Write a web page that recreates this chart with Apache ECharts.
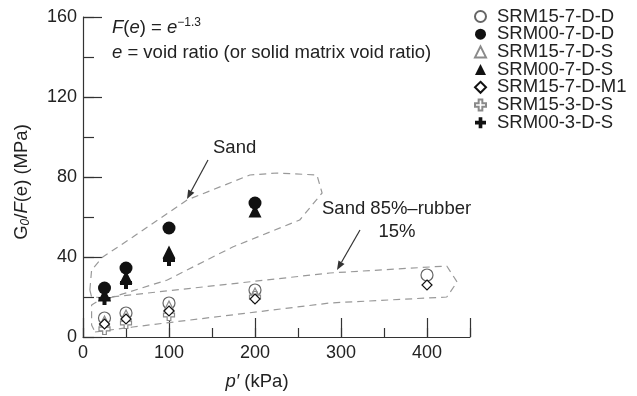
<!DOCTYPE html>
<html><head><meta charset="utf-8">
<script src="https://cdn.jsdelivr.net/npm/echarts@6/dist/echarts.min.js"></script>
<style>html,body{margin:0;padding:0;background:#fff}#c{width:637px;height:396px}</style>
</head><body><div id="c"></div>
<script>
// ---- data ----
const srm15_7DD  = [[25, 9.5], [50, 12], [100, 17], [200, 23.5], [400, 31]];
const srm00_7DD  = [[25, 24.5], [50, 34.5], [100, 54.5], [200, 67]];
const srm15_7DS  = [[25, 8], [50, 11], [100, 15.5], [200, 22]];
const srm00_7DS  = [[25, 21], [50, 30], [100, 42.5], [200, 63]];
const srm15_7DM1 = [[25, 6.5], [50, 9], [100, 13], [200, 19], [400, 26]];
const srm15_3DS  = [[25, 4], [50, 7], [100, 11], [200, 20]];
const srm00_3DS  = [[25, 19], [50, 27], [100, 38.5]];
// envelope outlines (data coordinates)
const sandEnvelope = [[8,23.5],[10,33.5],[23,40],[58,50],[121,68.5],[194,81],[226,82],[272,81],[278,72],[252,58.5],[174,45],[98,28.5],[31,19.5],[10,20],[8,23.5]];
const rubberEnvelope = [[14,2.5],[58,5],[287,17],[423,20],[435,27.5],[423,35.5],[287,32],[23,19.5],[10,16],[10,6],[14,2.5]];
const xTicks = [0, 100, 200, 300, 400];
const yTicks = [0, 40, 80, 120, 160];

const FONT = '"Liberation Sans", Arial, Helvetica, sans-serif';
const FS = 18.5;
const chart = echarts.init(document.getElementById('c'), null, {renderer: 'canvas'});

const plusPath = 'path://M4,0H8V4H12V8H8V12H4V8H0V4H4Z';
const grey = '#8a8a8a';

function sc(name, data, symbol, size, fill, stroke, z) {
  return {
    name, type: 'scatter', data, symbol, symbolSize: size, z: z,
    itemStyle: {color: fill, borderColor: stroke, borderWidth: stroke ? 1.2 : 0, opacity: 1}
  };
}

const gridL = 83, gridT = 17, gridB = 59, gridR = 167;

function arrow(x1, y1, x2, y2) {
  const ang = Math.atan2(y2 - y1, x2 - x1), L = 9, W = 3.5;
  const bx = x2 - L * Math.cos(ang), by = y2 - L * Math.sin(ang);
  const px = -Math.sin(ang) * W, py = Math.cos(ang) * W;
  return [
    {type: 'line', shape: {x1, y1, x2: bx, y2: by}, style: {stroke: '#333', lineWidth: 1.2}},
    {type: 'polygon', shape: {points: [[x2, y2], [bx + px, by + py], [bx - px, by - py]]}, style: {fill: '#333'}}
  ];
}
function txt(x, y, text, align, rich, extra) {
  return Object.assign({type: 'text', x, y, style: {
    text, fontSize: FS, fontFamily: FONT, fill: '#222', align: align || 'left', verticalAlign: 'middle',
    rich: rich || {}}}, extra || {});
}
const italic = {fontStyle: 'italic', fontSize: FS, fontFamily: FONT, fill: '#222'};

const option = {
  animation: false,
  backgroundColor: '#fff',
  textStyle: {fontFamily: FONT},
  grid: {left: gridL, top: gridT, right: gridR, bottom: gridB, containLabel: false},
  xAxis: [
    {type: 'value', min: 0, max: 450, interval: 50,
     axisLine: {show: true, lineStyle: {color: '#333', width: 1.2}},
     axisTick: {show: true, inside: true, length: 9, lineStyle: {color: '#333', width: 1.2}},
     axisLabel: {fontSize: 18, color: '#222', fontFamily: FONT, margin: 7,
       formatter: v => xTicks.indexOf(v) >= 0 ? String(v) : ''},
     splitLine: {show: false}},
    {type: 'value', min: 0, max: 450, interval: 100, position: 'bottom',
     axisLine: {show: false},
     axisTick: {show: true, inside: true, length: 19, lineStyle: {color: '#333', width: 1.2}},
     axisLabel: {show: false}, splitLine: {show: false}}
  ],
  yAxis: [
    {type: 'value', min: 0, max: 160, interval: 20,
     axisLine: {show: true, lineStyle: {color: '#333', width: 1.2}},
     axisTick: {show: true, inside: true, length: 11, lineStyle: {color: '#333', width: 1.2}},
     axisLabel: {fontSize: 18, color: '#222', fontFamily: FONT, margin: 6,
       formatter: v => yTicks.indexOf(v) >= 0 ? String(v) : ''},
     splitLine: {show: false}},
    {type: 'value', min: 0, max: 160, interval: 40, position: 'left',
     axisLine: {show: false},
     axisTick: {show: true, inside: true, length: 19, lineStyle: {color: '#333', width: 1.2}},
     axisLabel: {show: false}, splitLine: {show: false}}
  ],
  legend: {
    orient: 'vertical', left: 474, top: 7, padding: 0, itemGap: -1.3, itemWidth: 11, itemHeight: 11,
    textStyle: {fontSize: FS, color: '#222', fontFamily: FONT, padding: [0, 0, 0, 6]},
    data: ['SRM15-7-D-D', 'SRM00-7-D-D', 'SRM15-7-D-S', 'SRM00-7-D-S', 'SRM15-7-D-M1', 'SRM15-3-D-S', 'SRM00-3-D-S']
  },
  series: [
    {type: 'line', data: sandEnvelope, symbol: 'none', silent: true, z: 1,
     lineStyle: {color: '#999', width: 1.2, type: [7, 5]}},
    {type: 'line', data: rubberEnvelope, symbol: 'none', silent: true, z: 1,
     lineStyle: {color: '#999', width: 1.2, type: [7, 5]}},
    sc('SRM15-7-D-D', srm15_7DD, 'circle', 12, '#fff', '#666', 2),
    sc('SRM00-7-D-D', srm00_7DD, 'circle', 13, '#111', null, 5),
    sc('SRM15-7-D-S', srm15_7DS, 'triangle', 10, '#fff', grey, 3),
    sc('SRM00-7-D-S', srm00_7DS, 'triangle', 13, '#111', null, 4),
    sc('SRM15-7-D-M1', srm15_7DM1, 'diamond', 10, '#fff', '#111', 4),
    sc('SRM15-3-D-S', srm15_3DS, plusPath, 11, '#fff', grey, 3),
    sc('SRM00-3-D-S', srm00_3DS, plusPath, 12, '#111', null, 4)
  ],
  graphic: [
    txt(112, 28, '{i|F}({i|e}) = {i|e}{s|−1.3}', 'left',
        {i: italic, s: {fontSize: 12, fontFamily: FONT, fill: '#222', verticalAlign: 'top', padding: [0, 0, 10, 0]}}),
    txt(112, 53, '{i|e} = void ratio (or solid matrix void ratio)', 'left', {i: italic}),
    txt(213, 148, 'Sand', 'left'),
    txt(322, 209, 'Sand 85%–rubber', 'left'),
    txt(397, 232, '15%', 'center'),
    ...arrow(208, 160, 187, 199),
    ...arrow(360, 230, 337, 270),
    txt(257, 382, '{i|p′} (kPa)', 'center', {i: italic}),
    txt(22, 182, 'G{s|0}/{i|F}(e) (MPa)', 'center',
        {i: italic, s: {fontSize: 12, fontFamily: FONT, fontStyle: 'italic', fill: '#222', verticalAlign: 'bottom', padding: [8, 0, 0, 0]}},
        {rotation: Math.PI / 2})
  ]
};
chart.setOption(option);
</script></body></html>
